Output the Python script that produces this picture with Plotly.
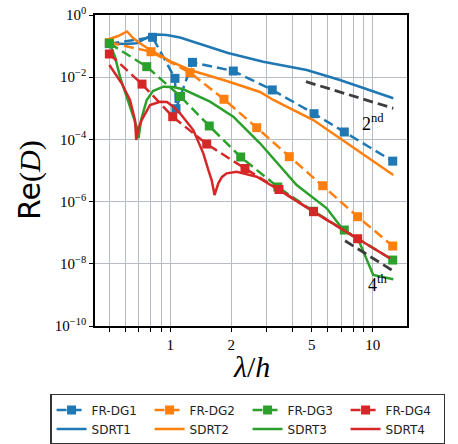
import plotly.graph_objects as go

# ---------------- data ----------------
frdg1_x = [0.5, 0.817, 1.055, 1.067, 1.287, 2.048, 3.19, 5.13, 7.24, 12.56]
frdg1_y = [0.12, 0.192, 9.2e-3, 9.7e-4, 3.0e-2, 1.58e-2, 3.9e-3, 6.7e-4, 1.73e-4, 2.0e-5]

frdg2_x = [0.5, 0.803, 1.251, 1.842, 2.673, 3.873, 5.662, 8.43, 12.56]
frdg2_y = [0.13, 0.066, 1.4e-2, 1.95e-3, 2.38e-4, 2.78e-5, 3.24e-6, 3.27e-7, 3.73e-8]

frdg3_x = [0.5, 0.765, 1.123, 1.558, 2.228, 3.397, 5.1, 7.24, 12.56]
frdg3_y = [0.123, 0.0218, 2.4e-3, 2.7e-4, 2.72e-5, 2.95e-6, 4.9e-7, 1.22e-7, 1.32e-8]

frdg4_x = [0.5, 0.725, 1.028, 1.513, 2.339, 3.444, 5.098, 8.43]
frdg4_y = [0.0557, 6.0e-3, 5.37e-4, 7.1e-5, 1.16e-5, 2.45e-6, 4.74e-7, 6.4e-8]

sdrt1_x = [0.5, 0.597, 0.682, 0.733, 0.794, 0.869, 0.96, 1.117, 1.299, 1.571, 1.928, 2.88, 4.72, 6.89, 12.64]
sdrt1_y = [0.123, 0.117, 0.123, 0.157, 0.211, 0.236, 0.227, 0.189, 0.138, 0.097, 0.06, 0.0315, 0.0171, 0.00813, 0.0021]

sdrt2_x = [0.5, 0.553, 0.611, 0.657, 0.708, 0.809, 0.889, 1.016, 1.251, 1.9, 2.775, 3.23, 5.09, 7.44, 12.64]
sdrt2_y = [0.169, 0.211, 0.295, 0.178, 0.123, 0.0696, 0.0518, 0.0308, 0.0171, 0.00755, 0.00334, 0.00185, 4.2e-4, 7.5e-5, 7.2e-6]

sdrt3_x = [0.5, 0.533, 0.564, 0.609, 0.645, 0.682, 0.697, 0.717, 0.765, 0.821, 0.923, 1.031, 1.159,
           1.571, 2.048, 2.775, 4.21, 5.93, 7.16, 8.48, 10.06, 12.64]
sdrt3_y = [0.123, 0.0456, 0.0104, 0.00236, 8.8e-4, 2.56e-4, 1.1e-4, 4.2e-4, 1.85e-3, 3.6e-3, 4.95e-3, 4.84e-3, 4.08e-3,
           1.63e-3, 5.37e-4, 7.5e-5, 3.42e-6, 6.1e-7, 1.22e-7, 6.1e-8, 4.4e-9, 3.2e-9]

sdrt4_x = [0.5, 0.575, 0.632, 0.669, 0.679, 0.697, 0.722, 0.794, 0.889, 0.963, 1.035, 1.117, 1.299, 1.456,
           1.541, 1.601, 1.654, 1.727, 1.8, 1.9, 2.13, 2.673, 3.444, 5.09, 8.43, 12.2]
sdrt4_y = [0.0247, 6.37e-3, 1.85e-3, 4.2e-4, 9.6e-5, 2.33e-4, 4.2e-4, 1.28e-3, 1.63e-3, 1.6e-3, 1.13e-3, 6.9e-4, 2.0e-4, 3.57e-5,
           1.04e-5, 4.95e-6, 1.63e-6, 3.87e-6, 6.2e-6, 8.1e-6, 9.1e-6, 6.3e-6, 2.36e-6, 4.74e-7, 6.4e-8, 1.5e-8]

ref2_x = [4.68, 12.64]
ref2_y = [7.2e-3, 1.0e-3]
ref4_x = [7.3, 12.42]
ref4_y = [5.5e-8, 6.3e-9]

x_tickvals = [1, 2, 5, 10]
x_ticktext = ["1", "2", "5", "10"]
x_minorvals = [0.5, 0.6, 0.7, 0.8, 0.9, 3, 4, 6, 7, 8, 9]
y_tickvals = [1e0, 1e-2, 1e-4, 1e-6, 1e-8, 1e-10]
y_ticktext = ["10<sup>0</sup>", "10<sup>−2</sup>", "10<sup>−4</sup>", "10<sup>−6</sup>",
              "10<sup>−8</sup>", "10<sup>−10</sup>"]

colors = ["#1f77b4", "#ff7f0e", "#2ca02c", "#d62728"]
fr = [(frdg1_x, frdg1_y), (frdg2_x, frdg2_y), (frdg3_x, frdg3_y), (frdg4_x, frdg4_y)]
sd = [(sdrt1_x, sdrt1_y), (sdrt2_x, sdrt2_y), (sdrt3_x, sdrt3_y), (sdrt4_x, sdrt4_y)]

fig = go.Figure()
for i in range(4):
    fig.add_trace(go.Scatter(
        x=fr[i][0], y=fr[i][1], mode="lines+markers", name=f"FR-DG{i+1}",
        line=dict(color=colors[i], width=2.5, dash="10px,5px"),
        marker=dict(symbol="square", size=9, color=colors[i]),
        legendrank=i + 1))
    fig.add_trace(go.Scatter(
        x=sd[i][0], y=sd[i][1], mode="lines", name=f"SDRT{i+1}",
        line=dict(color=colors[i], width=2.5),
        legendrank=i + 5))

fig.add_trace(go.Scatter(x=ref2_x, y=ref2_y, mode="lines", showlegend=False,
                         line=dict(color="#3d3d3d", width=2.8, dash="10px,5px")))
fig.add_trace(go.Scatter(x=ref4_x, y=ref4_y, mode="lines", showlegend=False,
                         line=dict(color="#3d3d3d", width=2.8, dash="10px,5px")))

axis_common = dict(
    type="log", showgrid=True, gridcolor="#b8bcc4", gridwidth=1.2,
    ticks="outside", ticklen=4, tickwidth=1, tickcolor="black",
    showline=True, linecolor="black", linewidth=1.6, mirror=True,
    zeroline=False, tickfont=dict(family="Liberation Serif", size=15, color="black"),
)

fig.update_layout(
    width=458, height=444,
    margin=dict(l=95, r=51, t=15, b=118, autoexpand=False),
    plot_bgcolor="white", paper_bgcolor="white",
    xaxis=dict(range=[-0.372, 1.1695], tickvals=x_tickvals, ticktext=x_ticktext,
               minor=dict(tickvals=x_minorvals, showgrid=True, gridcolor="#b8bcc4", gridwidth=1.2,
                          ticks="outside", ticklen=4, tickwidth=1, tickcolor="black"),
               **axis_common),
    yaxis=dict(range=[-10, 0], tickvals=y_tickvals, ticktext=y_ticktext, **axis_common),
    legend=dict(orientation="h", x=-0.144, y=-0.2186, xanchor="left", yanchor="top",
                bordercolor="#333333", borderwidth=1.5, bgcolor="white",
                font=dict(family="DejaVu Sans", size=12, color="#222222"),
                entrywidth=53, entrywidthmode="pixels", traceorder="normal"),
    annotations=[
        dict(text='<span style="font-family:DejaVu Sans">Re</span>(<i>D</i>)', textangle=-90,
             xref="paper", yref="paper", x=-0.2083, y=0.4695, showarrow=False,
             xanchor="center", yanchor="middle",
             font=dict(family="Liberation Serif", size=30, color="black")),
        dict(text="<i>λ</i>/<i>h</i>", xref="paper", yref="paper", x=0.5, y=-0.1318,
             showarrow=False, xanchor="center", yanchor="middle",
             font=dict(family="Liberation Serif", size=30, color="black")),
        dict(text="2<sup>nd</sup>", xref="paper", yref="paper", x=0.891, y=0.653,
             showarrow=False, xanchor="center", yanchor="middle",
             font=dict(family="Liberation Serif", size=18, color="black")),
        dict(text="4<sup>th</sup>", xref="paper", yref="paper", x=0.907, y=0.138,
             showarrow=False, xanchor="center", yanchor="middle",
             font=dict(family="Liberation Serif", size=18, color="black")),
    ],
)

fig.write_html("out.html", config={"displayModeBar": False},
               post_script="document.body.style.margin='0px';")
